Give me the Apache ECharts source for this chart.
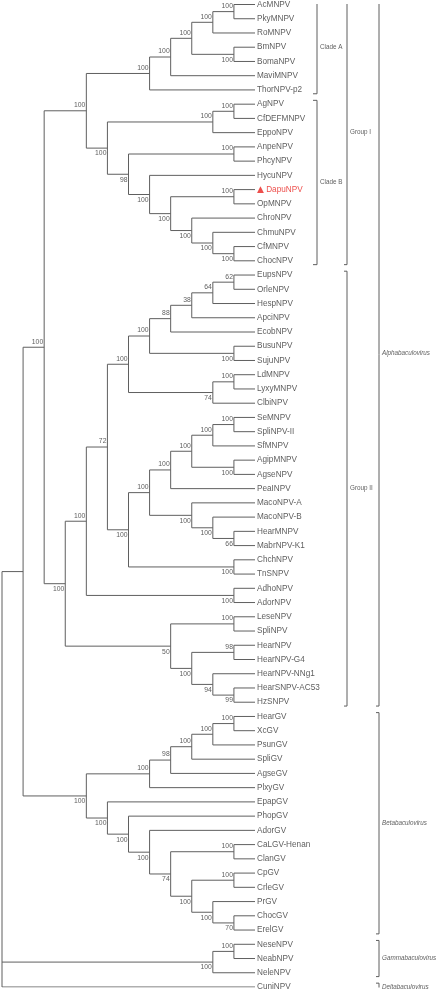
<!DOCTYPE html>
<html><head><meta charset="utf-8">
<script src="https://cdn.jsdelivr.net/npm/echarts/dist/echarts.min.js"></script>
<style>html,body{margin:0;padding:0;background:#fff}#c{width:437px;height:992px}</style>
</head><body><div id="c"></div>
<script>
// ---- data: topology (Newick) with bootstrap support values ----
const cladeA   = "(((((AcMNPV,PkyMNPV)100,RoMNPV)100,(BmNPV,BomaNPV)100)100,MaviMNPV)100,ThorNPV-p2)100";
const cladeB   = "(((AgNPV,CfDEFMNPV)100,EppoNPV)100,((AnpeNPV,PhcyNPV)100,(HycuNPV,((DapuNPV,OpMNPV)100,(ChroNPV,(ChmuNPV,(CfMNPV,ChocNPV)100)100)100)100)100)98)100";
const g2PartA  = "((((((EupsNPV,OrleNPV)62,HespNPV)64,ApciNPV)38,EcobNPV)88,(BusuNPV,SujuNPV)100)100,((LdMNPV,LyxyMNPV)100,ClbiNPV)74)100";
const g2PartB  = "((((((SeMNPV,SpliNPV-II)100,SfMNPV)100,(AgipMNPV,AgseNPV)100)100,PeaINPV)100,(MacoNPV-A,(MacoNPV-B,(HearMNPV,MabrNPV-K1)66)100)100)100,(ChchNPV,TnSNPV)100)100";
const g2PartC  = "(AdhoNPV,AdorNPV)100";
const g2PartD  = "((LeseNPV,SpliNPV)100,((HearNPV,HearNPV-G4)98,(HearNPV-NNg1,(HearSNPV-AC53,HzSNPV)99)94)100)50";
const betaA    = "(((((HearGV,XcGV)100,PsunGV)100,SpliGV)100,AgseGV)98,PlxyGV)100";
const betaB    = "(EpapGV,(PhopGV,(AdorGV,((CaLGV-Henan,ClanGV)100,((CpGV,CrleGV)100,(PrGV,(ChocGV,ErelGV)70)100)100)74)100)100)100";
const gamma    = "((NeseNPV,NeabNPV)100,NeleNPV)100";
const delta    = "CuniNPV";
const highlighted = ["DapuNPV"];

const bracketNames = ["Clade A","Clade B","Group I","Group II","Alphabaculovirus","Betabaculovirus","Gammabaculovirus","Deltabaculovirus"];
const bracketFrom  = ["AcMNPV","AgNPV","AcMNPV","EupsNPV","AcMNPV","HearGV","NeseNPV","CuniNPV"];
const bracketTo    = ["ThorNPV-p2","ChocNPV","ChocNPV","HzSNPV","HzSNPV","ErelGV","NeleNPV","CuniNPV"];
const bracketTier  = [0,0,1,1,2,2,2,2];
const bracketItalic= [false,false,false,false,true,true,true,true];

// ---- layout constants (pixels) ----
const W = 437, leftPx = 2, leafPx = 255;
const tierPx = [317, 347, 379];
const tickPx = [4, 3, 3];
const lineColor = '#5f5f5f', textColor = '#333';

const groupI  = "(" + cladeA + "," + cladeB + ")100";
const groupII = "(((" + g2PartA + "," + g2PartB + ")72," + g2PartC + ")100," + g2PartD + ")100";
const alpha   = "(" + groupI + "," + groupII + ")100";
const betaT   = "(" + betaA + "," + betaB + ")100";
const fullTree = "((" + alpha + "," + betaT + ")," + gamma + "," + delta + ")";

function parseNewick(s){
  let i = 0;
  function node(){
    if (s[i] === '('){
      i++; const children = [];
      while (true){
        children.push(node());
        if (s[i] === ','){ i++; continue; }
        if (s[i] === ')'){ i++; break; }
      }
      let lab = '';
      while (i < s.length && /[0-9.]/.test(s[i])) lab += s[i++];
      return {children, support: lab};
    }
    let name = '';
    while (i < s.length && !',()'.includes(s[i])) name += s[i++];
    return {name};
  }
  return node();
}
const root = parseNewick(fullTree);
let leafCount = 0; const leaves = [];
function lay(n){
  if (!n.children){ n.y = leafCount++; n.h = 0; leaves.push(n); return; }
  n.children.forEach(lay);
  n.h = Math.max(...n.children.map(c => c.h)) + 1;
  n.y = (n.children[0].y + n.children[n.children.length-1].y) / 2;
}
lay(root);
const depth = root.h;
const segs = [], supports = [];
function place(n){
  n.x = depth - n.h;
  if (!n.children) return;
  const k = n.children.length;
  n.children.forEach((c, j) => { c.side = j === 0 ? -1 : 1; place(c); });
  segs.push({coords: [[n.x, n.children[0].y], [n.x, n.children[k-1].y]]});
  n.children.forEach(c => segs.push({coords: [[n.x, c.y], [c.x, c.y]]}));
  if (n.support) supports.push({value: [n.x, n.y], name: n.support, side: n.side});
}
place(root);

const pxPerLevel = (leafPx - leftPx) / depth;
const xMax = (W - leftPx) / pxPerLevel;
const toLev = px => (px - leftPx) / pxPerLevel;
const byName = {}; leaves.forEach(l => byName[l.name] = l.y);

const bracketSegs = [], bracketLabels = [];
bracketNames.forEach((nm, i) => {
  const t = bracketTier[i];
  const x = toLev(tierPx[t]), xt = toLev(tierPx[t] - tickPx[t]);
  const y1 = byName[bracketFrom[i]] - 0.27, y2 = byName[bracketTo[i]] + 0.27;
  bracketSegs.push({coords: [[xt, y1], [x, y1], [x, y2], [xt, y2]]});
  bracketLabels.push({value: [x, (byName[bracketFrom[i]] + byName[bracketTo[i]]) / 2], name: nm,
    label: {fontStyle: bracketItalic[i] ? 'italic' : 'normal'}});
});

const leafData = leaves.map(l => {
  const d = {value: [l.x, l.y], name: l.name};
  if (highlighted.includes(l.name)) d.label = {formatter: '{t|▲} {r|' + l.name + '}'};
  return d;
});

const FONT = 'Liberation Sans, Arial, sans-serif';
const chart = echarts.init(document.getElementById('c'));
chart.setOption({
  animation: false,
  backgroundColor: '#fff',
  grid: {left: leftPx, right: 0, top: 4.5, bottom: 5},
  xAxis: {type: 'value', min: 0, max: xMax, show: false},
  yAxis: {type: 'value', min: 0, max: leafCount - 1, inverse: true, show: false},
  series: [
    {type: 'lines', coordinateSystem: 'cartesian2d', polyline: true, silent: true,
     lineStyle: {color: lineColor, width: 1, opacity: 1}, data: segs},
    {type: 'lines', coordinateSystem: 'cartesian2d', polyline: true, silent: true,
     lineStyle: {color: lineColor, width: 1, opacity: 1}, data: bracketSegs},
    {type: 'scatter', symbolSize: 0, silent: true, data: leafData,
     label: {show: true, position: 'right', distance: 2, color: textColor,
       fontFamily: FONT, fontSize: 8.2, formatter: p => p.name,
       rich: {t: {color: '#e8231f', fontSize: 9, fontFamily: 'DejaVu Sans'},
              r: {color: '#e8231f', fontSize: 8.2, fontFamily: FONT}}}},
    {type: 'scatter', symbolSize: 0, silent: true,
     data: supports.map(s => ({value: s.value, name: s.name,
       label: {offset: [0, s.side < 0 ? -5.5 : 5.5]}})),
     label: {show: true, position: 'left', distance: 1, color: textColor,
       fontFamily: FONT, fontSize: 6.8, formatter: p => p.name}},
    {type: 'scatter', symbolSize: 0, silent: true, data: bracketLabels,
     label: {show: true, position: 'right', distance: 3, color: textColor,
       fontFamily: FONT, fontSize: 6.3, formatter: p => p.name}}
  ]
});
</script></body></html>
